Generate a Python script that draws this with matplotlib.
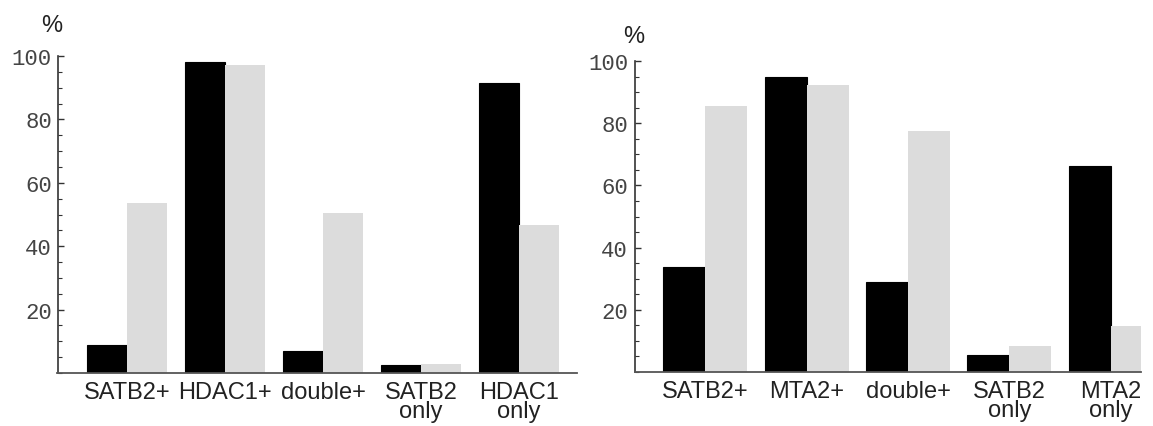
import numpy as np
import matplotlib.pyplot as plt
from matplotlib.ticker import MultipleLocator

# left panel: SATB2 / HDAC1
categories_hdac = ['SATB2+', 'HDAC1+', 'double+', 'SATB2\nonly', 'HDAC1\nonly']
black_hdac = [8.7, 98.0, 6.9, 2.4, 91.6]
gray_hdac = [53.7, 97.2, 50.6, 2.9, 46.6]

# right panel: SATB2 / MTA2
categories_mta = ['SATB2+', 'MTA2+', 'double+', 'SATB2\nonly', 'MTA2\nonly']
black_mta = [33.9, 94.9, 28.9, 5.6, 66.1]
gray_mta = [85.6, 92.2, 77.5, 8.2, 14.8]

yticks = [20, 40, 60, 80, 100]

W, H = 1153, 427
fig = plt.figure(figsize=(W / 100, H / 100), dpi=100)


def draw_panel(ax, cats, black, gray, width, xlim, label_pad):
    x = np.arange(len(cats))
    ax.bar(x - width / 2, black, width, color='black', edgecolor='black', linewidth=0.8)
    ax.bar(x + width / 2, gray, width, color='#dcdcdc', edgecolor='none')
    ax.set_xlim(*xlim)
    ax.set_ylim(0, 100)
    ax.set_yticks(yticks)
    ax.yaxis.set_minor_locator(MultipleLocator(5))
    ax.tick_params(axis='y', which='major', direction='in', length=4, width=1,
                   color='#333333', pad=label_pad, labelsize=16, labelcolor='#444444')
    ax.tick_params(axis='y', which='minor', direction='in', length=3, width=0.8,
                   color='#333333')
    for lab in ax.get_yticklabels():
        lab.set_family('Liberation Mono')
    ax.set_xticks(x, cats)
    ax.tick_params(axis='x', length=0, pad=6, labelsize=17, labelcolor='#222222')
    for lab in ax.get_xticklabels():
        lab.set_family('Liberation Sans')
        lab.set_linespacing(0.8)
    for side in ['top', 'right']:
        ax.spines[side].set_visible(False)
    ax.spines['bottom'].set_color('#555555')
    ax.spines['bottom'].set_linewidth(1.3)
    ax.spines['left'].set_color('#333333')
    ax.spines['left'].set_linewidth(1.2)


ax1 = fig.add_axes([57.5 / W, (H - 374) / H, (577 - 57.5) / W, (374 - 57) / H])
draw_panel(ax1, categories_hdac, black_hdac, gray_hdac, 40 / 98, (-0.709, 4.592), 4)

ax2 = fig.add_axes([635 / W, (H - 373) / H, (1141 - 635) / W, (373 - 62) / H])
draw_panel(ax2, categories_mta, black_mta, gray_mta, 42 / 101.5, (-0.690, 4.296), 5)

fig.text(52 / W, 1 - 26 / H, '%', ha='center', va='center', fontsize=17,
         family='Liberation Sans', color='#222222')
fig.text(634 / W, 1 - 37 / H, '%', ha='center', va='center', fontsize=17,
         family='Liberation Sans', color='#222222')

fig.savefig('out.png', dpi=100)
